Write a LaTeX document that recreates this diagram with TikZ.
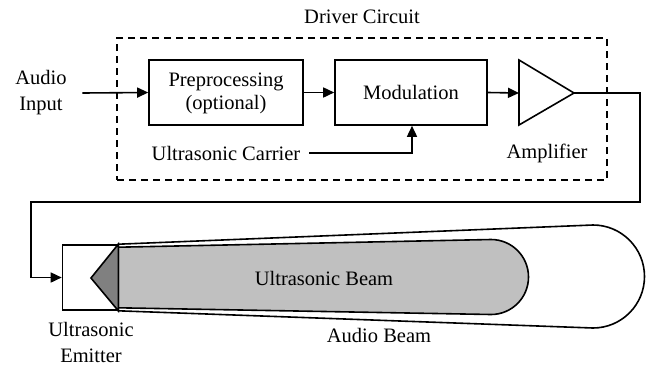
\documentclass[tikz,border=0pt]{standalone}
\usepackage{fontspec}
\setmainfont{Liberation Serif}
\usetikzlibrary{arrows.meta}
\begin{document}
\begin{tikzpicture}[x=1pt,y=-1pt,line width=1.6pt,
  every node/.style={font=\fontsize{20.5}{26}\selectfont, inner sep=0pt},
  box/.style={draw, minimum width=#1, minimum height=65pt},
  arr/.style={-{Triangle[length=11pt,width=10pt]}},
  lbl/.style={align=center}]
\useasboundingbox (0,0) rectangle (654,365);
% driver circuit
\node[draw, dashed, dash pattern=on 7pt off 5pt, minimum width=490pt, minimum height=142pt] (drv) at (362,109) {};
\node (drvl) at (362,17) {Driver Circuit};
\node[box=154pt] (pre) at (226,92.5) {\begin{tabular}{@{}c@{}}Preprocessing\\[-3pt](optional)\end{tabular}};
\node[box=152pt] (mod) at (411,92.5) {Modulation};
\coordinate (ampin) at (519,93);
\coordinate (ampout) at (574,93);
\draw (519,60) -- (ampout) -- (519,125) -- cycle;
\node (ampl) at (547,153) {Amplifier};
\node[lbl] (ai) at (41,93) {Audio\\Input};
\node (car) at (226,153) {Ultrasonic Carrier};
\draw[arr] ([xshift=15pt]ai.east) -- (pre.west);
\draw[arr] (pre.east) -- (mod.west);
\draw[arr] (mod.east) -- (ampin);
\draw[arr] ([xshift=8pt]car.east) -| ([xshift=1pt]mod.south);
% emitter
\node[draw, minimum width=55pt, minimum height=65pt] (em) at (90,277.5) {};
\coordinate (c1) at (640,202);
\coordinate (c2) at (31,202);
\draw[arr] (ampout) -| (c1) -- (c2) |- (em.west);
% beams
\draw[fill=white] (em.north east) -- (593,225) arc[start angle=90, end angle=-90, radius=51.5pt] -- (em.south east) -- cycle;
\draw[fill={rgb,255:red,192;green,192;blue,192}] ([yshift=-3pt]em.north east) -- (491,239.5) arc[start angle=90, end angle=-90, radius=37.5pt] -- ([yshift=3pt]em.south east) -- cycle;
\draw[fill={rgb,255:red,128;green,128;blue,128}] (em.north east) -- (91,278) -- (em.south east) -- cycle;
\node (ub) at (324,278) {Ultrasonic Beam};
\node (ab) at (379,335) {Audio Beam};
\node[lbl] (eml) at (91,342) {Ultrasonic\\Emitter};
\end{tikzpicture}
\end{document}
